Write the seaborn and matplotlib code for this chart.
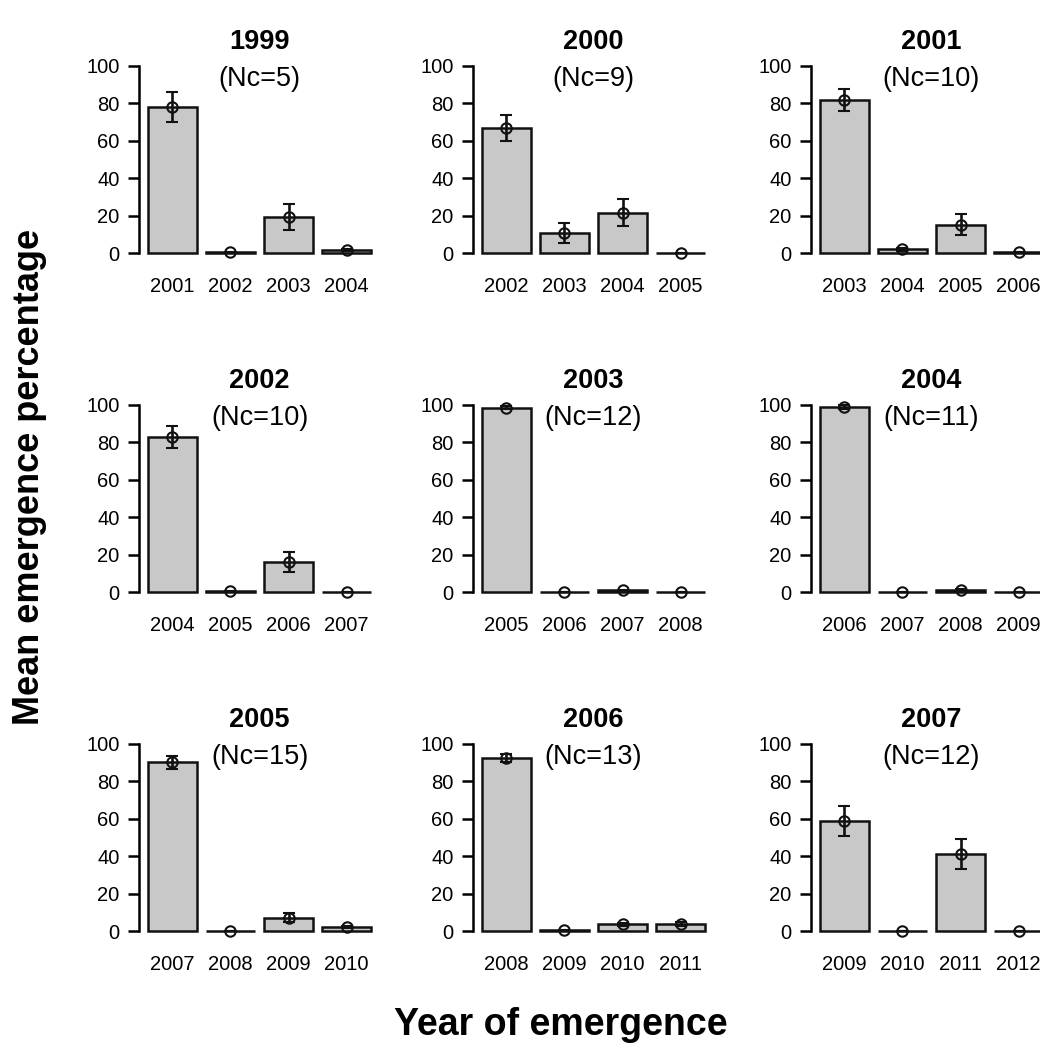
"""
Mean emergence percentage by cohort year, 3x3 panel barplot
"""
import matplotlib
matplotlib.use("Agg")
import matplotlib.pyplot as plt
import numpy as np
import pandas as pd
import seaborn as sns

# ── data ──────────────────────────────────────────────────────
cohorts = [1999, 2000, 2001, 2002, 2003, 2004, 2005, 2006, 2007]
nc      = [5, 9, 10, 10, 12, 11, 15, 13, 12]
means = [
    [78.0, 0.4, 19.1, 1.6],
    [66.8, 10.5, 21.5, 0.0],
    [81.8, 2.0, 15.1, 0.3],
    [83.0, 0.3, 16.1, 0.0],
    [98.5, 0.2, 0.9, 0.0],
    [98.8, 0.0, 1.0, 0.0],
    [90.1, 0.2, 7.2, 2.2],
    [92.3, 0.3, 3.6, 3.9],
    [58.8, 0.2, 41.4, 0.0],
]
ses = [
    [8.0, 0.2, 6.9, 0.5],
    [7.1, 5.4, 7.2, 0.0],
    [6.0, 0.7, 5.6, 0.0],
    [5.8, 0.0, 5.5, 0.0],
    [0.8, 0.0, 0.3, 0.0],
    [1.0, 0.0, 0.5, 0.0],
    [3.6, 0.0, 2.6, 0.5],
    [2.2, 0.0, 0.8, 1.0],
    [8.2, 0.0, 8.0, 0.0],
]

sns.set_style("ticks", {"axes.edgecolor": "black", "xtick.color": "black",
                        "ytick.color": "black", "text.color": "black",
                        "axes.labelcolor": "black"})
plt.rcParams["font.family"] = ["Liberation Sans", "DejaVu Sans"]

W, H = 1040, 1050
fig = plt.figure(figsize=(W/100, H/100), dpi=100)

col_left = [139, 473, 811]
row_top  = [58.5, 397.5, 736.5]
ax_w, ax_h = 241, 202
bw = 0.84
ink = "#111111"

for i, yr in enumerate(cohorts):
    r, c = divmod(i, 3)
    ax = fig.add_axes([col_left[c]/W, 1 - (row_top[r]+ax_h)/H, ax_w/W, ax_h/H])
    years = [str(yr + 2 + k) for k in range(4)]
    df = pd.DataFrame({"year": years, "mean": means[i], "se": ses[i]})
    sns.barplot(data=df, x="year", y="mean", ax=ax, color="#c8c8c8",
                saturation=1, edgecolor=ink, linewidth=1.8, width=bw,
                errorbar=None)
    ax.errorbar(np.arange(len(years)), df["mean"], yerr=df["se"], fmt="o",
                mfc="none", mec=ink, mew=1.5, ms=7.5, ecolor=ink,
                elinewidth=1.9, capsize=4.5, capthick=1.9, zorder=5)
    ax.text(1.5, 93, f"(Nc={nc[i]})", ha="center", va="center", fontsize=19.5)
    ax.set_title(str(yr), fontsize=19.5, fontweight="bold", pad=7)
    ax.set_xlim(-bw/2 - 0.154, 3 + bw/2 + 0.154)
    ax.set_ylim(-4, 104)
    ax.set_yticks([0, 20, 40, 60, 80, 100])
    ax.set_xlabel(""); ax.set_ylabel("")
    for s in ["top", "right", "bottom"]:
        ax.spines[s].set_visible(False)
    ax.spines["left"].set_bounds(0, 100)
    ax.spines["left"].set_linewidth(1.8)
    ax.tick_params(axis="y", length=8, width=1.8, labelsize=14.5, pad=6)
    ax.tick_params(axis="x", length=0, labelsize=14.5, pad=12)

fig.text(30/W, 1 - 477/H, "Mean emergence percentage", rotation=90,
         ha="center", va="center", fontsize=26, fontweight="bold")
fig.text(561/W, 1 - 1025/H, "Year of emergence", ha="center", va="center",
         fontsize=27, fontweight="bold")

plt.savefig("out.png", dpi=100)
plt.close()
